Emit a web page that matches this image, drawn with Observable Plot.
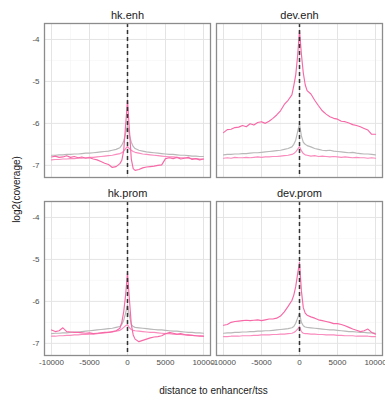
<!DOCTYPE html>
<html><head><meta charset="utf-8">
<script src="https://cdn.jsdelivr.net/npm/d3@7"></script>
<script src="https://cdn.jsdelivr.net/npm/@observablehq/plot@0.6"></script>
<style>
body{margin:0;background:#fff}
svg{font-family:"Liberation Sans",Arial,sans-serif}
</style>
</head><body><div id="chart"></div>
<script>
const distance = [-10000,-9500,-9000,-8500,-8000,-7500,-7000,-6500,-6000,-5500,-5000,-4500,-4000,-3500,-3000,-2500,-2000,-1500,-1000,-750,-500,-250,0,250,500,750,1000,1500,2000,2500,3000,3500,4000,4500,5000,5500,6000,6500,7000,7500,8000,8500,9000,9500,10000];
const cells = ["hk","dev"];
const regions = ["enh","prom"];
const seriesNames = ["input","sample2","sample1"];
const xTicks = [-10000,-5000,0,5000,10000];
const xMinor = [-7500,-2500,2500,7500];
const yTicks = [-7,-6,-5,-4];
const yMinor = [-6.5,-5.5,-4.5];

// hk.enh
const hkEnhInput = [-6.76,-6.76,-6.75,-6.75,-6.74,-6.74,-6.73,-6.73,-6.72,-6.71,-6.71,-6.70,-6.69,-6.68,-6.67,-6.66,-6.64,-6.62,-6.58,-6.52,-6.42,-6.25,-6.05,-6.28,-6.45,-6.55,-6.60,-6.64,-6.66,-6.68,-6.69,-6.70,-6.71,-6.72,-6.73,-6.74,-6.74,-6.75,-6.76,-6.76,-6.77,-6.78,-6.78,-6.79,-6.79];
const hkEnhSample2 = [-6.87,-6.86,-6.86,-6.85,-6.85,-6.84,-6.84,-6.83,-6.83,-6.82,-6.81,-6.81,-6.80,-6.79,-6.78,-6.77,-6.76,-6.74,-6.72,-6.70,-6.66,-6.60,-6.55,-6.60,-6.64,-6.67,-6.69,-6.71,-6.73,-6.74,-6.75,-6.76,-6.77,-6.78,-6.79,-6.80,-6.80,-6.81,-6.82,-6.82,-6.83,-6.84,-6.84,-6.85,-6.85];
const hkEnhSample1 = [-6.80,-6.78,-6.81,-6.80,-6.77,-6.81,-6.79,-6.82,-6.80,-6.83,-6.82,-6.85,-6.87,-6.91,-6.95,-6.98,-7.05,-7.03,-6.96,-6.88,-6.65,-6.05,-5.45,-6.15,-6.85,-7.08,-7.12,-7.10,-7.06,-7.04,-7.03,-7.02,-7.00,-6.99,-6.84,-6.82,-6.84,-6.81,-6.85,-6.83,-6.81,-6.86,-6.84,-6.87,-6.85];
// dev.enh
const devEnhInput = [-6.75,-6.74,-6.74,-6.73,-6.73,-6.72,-6.72,-6.71,-6.70,-6.70,-6.69,-6.68,-6.67,-6.66,-6.65,-6.64,-6.62,-6.60,-6.56,-6.50,-6.40,-6.20,-6.02,-6.30,-6.45,-6.50,-6.53,-6.56,-6.60,-6.62,-6.64,-6.65,-6.64,-6.66,-6.67,-6.68,-6.69,-6.70,-6.69,-6.71,-6.72,-6.73,-6.73,-6.74,-6.75];
const devEnhSample2 = [-6.83,-6.82,-6.83,-6.81,-6.82,-6.82,-6.81,-6.82,-6.81,-6.80,-6.81,-6.80,-6.80,-6.79,-6.79,-6.78,-6.77,-6.76,-6.74,-6.72,-6.68,-6.62,-6.55,-6.65,-6.72,-6.75,-6.76,-6.78,-6.77,-6.79,-6.78,-6.79,-6.80,-6.79,-6.80,-6.81,-6.80,-6.81,-6.82,-6.81,-6.82,-6.82,-6.83,-6.82,-6.83];
const devEnhSample1 = [-6.22,-6.15,-6.14,-6.10,-6.09,-6.05,-6.08,-6.01,-6.04,-5.98,-5.96,-6.00,-5.95,-5.88,-5.80,-5.70,-5.55,-5.45,-5.32,-5.10,-4.85,-4.40,-3.78,-4.35,-4.80,-5.08,-5.22,-5.30,-5.45,-5.58,-5.70,-5.78,-5.84,-5.88,-5.90,-5.95,-5.96,-5.99,-6.03,-6.05,-6.08,-6.12,-6.16,-6.26,-6.26];
// hk.prom
const hkPromInput = [-6.77,-6.76,-6.76,-6.75,-6.75,-6.74,-6.73,-6.73,-6.72,-6.71,-6.70,-6.69,-6.68,-6.67,-6.66,-6.65,-6.64,-6.62,-6.60,-6.55,-6.45,-6.28,-6.08,-6.35,-6.55,-6.60,-6.62,-6.63,-6.64,-6.65,-6.66,-6.67,-6.68,-6.68,-6.69,-6.70,-6.71,-6.71,-6.72,-6.73,-6.74,-6.74,-6.75,-6.75,-6.76];
const hkPromSample2 = [-6.83,-6.83,-6.82,-6.82,-6.81,-6.81,-6.80,-6.80,-6.79,-6.79,-6.78,-6.78,-6.77,-6.76,-6.75,-6.74,-6.73,-6.71,-6.69,-6.66,-6.62,-6.58,-6.55,-6.63,-6.67,-6.69,-6.70,-6.71,-6.72,-6.73,-6.74,-6.74,-6.75,-6.76,-6.77,-6.77,-6.78,-6.79,-6.79,-6.80,-6.81,-6.81,-6.82,-6.82,-6.83];
const hkPromSample1 = [-6.68,-6.72,-6.70,-6.63,-6.72,-6.73,-6.74,-6.74,-6.75,-6.76,-6.75,-6.77,-6.76,-6.75,-6.74,-6.74,-6.72,-6.70,-6.64,-6.50,-6.25,-5.85,-5.32,-5.95,-6.55,-6.80,-6.90,-6.96,-6.93,-6.90,-6.87,-6.85,-6.84,-6.82,-6.77,-6.74,-6.76,-6.78,-6.77,-6.79,-6.80,-6.81,-6.82,-6.83,-6.83];
// dev.prom
const devPromInput = [-6.76,-6.75,-6.75,-6.74,-6.74,-6.73,-6.73,-6.72,-6.72,-6.71,-6.71,-6.70,-6.70,-6.69,-6.68,-6.67,-6.66,-6.65,-6.63,-6.60,-6.52,-6.40,-6.28,-6.50,-6.58,-6.61,-6.62,-6.63,-6.64,-6.65,-6.66,-6.67,-6.68,-6.68,-6.69,-6.70,-6.71,-6.72,-6.72,-6.73,-6.74,-6.74,-6.75,-6.75,-6.76];
const devPromSample2 = [-6.84,-6.84,-6.83,-6.83,-6.83,-6.82,-6.82,-6.82,-6.81,-6.81,-6.80,-6.80,-6.80,-6.79,-6.79,-6.78,-6.78,-6.77,-6.76,-6.74,-6.71,-6.66,-6.60,-6.72,-6.76,-6.77,-6.77,-6.78,-6.78,-6.79,-6.79,-6.80,-6.80,-6.80,-6.81,-6.81,-6.82,-6.82,-6.82,-6.83,-6.83,-6.83,-6.83,-6.84,-6.84];
const devPromSample1 = [-6.57,-6.55,-6.50,-6.48,-6.47,-6.46,-6.45,-6.46,-6.45,-6.44,-6.46,-6.44,-6.42,-6.42,-6.40,-6.35,-6.25,-6.12,-5.98,-5.85,-5.65,-5.35,-5.07,-5.75,-6.15,-6.28,-6.33,-6.37,-6.40,-6.44,-6.46,-6.48,-6.50,-6.53,-6.53,-6.55,-6.58,-6.62,-6.66,-6.69,-6.72,-6.70,-6.66,-6.74,-6.78];

const panelSeries = [
  ["hk","enh", hkEnhInput, hkEnhSample2, hkEnhSample1],
  ["dev","enh", devEnhInput, devEnhSample2, devEnhSample1],
  ["hk","prom", hkPromInput, hkPromSample2, hkPromSample1],
  ["dev","prom", devPromInput, devPromSample2, devPromSample1]
];
const rows = [];
for (const [cell, region, ...vals] of panelSeries) {
  vals.forEach((arr, k) => arr.forEach((v, i) => rows.push({cell, region, series: seriesNames[k], distance: distance[i], value: v})));
}
const panels = panelSeries.map(([cell, region]) => ({cell, region, label: cell + "." + region}));

const chart = Plot.plot({
  width: 385, height: 401,
  marginLeft: 43, marginRight: 3, marginTop: 23, marginBottom: 45,
  style: {fontFamily: "'Liberation Sans', Arial, sans-serif", fontSize: "8px", color: "#4d4d4d", background: "#fff"},
  fx: {domain: cells, paddingInner: 0.036, paddingOuter: 0, axis: null},
  fy: {domain: regions, paddingInner: 0.134, paddingOuter: 0, axis: null},
  x: {domain: [-10920, 10920], ticks: xTicks, tickFormat: d => String(d), tickSize: 0, tickPadding: 4,
      label: "distance to enhancer/tss", labelAnchor: "center", labelOffset: 38, labelArrow: "none"},
  y: {domain: [-7.29, -3.62], ticks: yTicks, tickFormat: d => String(d), tickSize: 0, tickPadding: 5,
      label: "log2(coverage)", labelAnchor: "center", labelOffset: 32, labelArrow: "none"},
  color: {domain: seriesNames, range: ["#b8b8b8", "#f98bbd", "#f768a6"]},
  marks: [
    Plot.ruleX(xMinor, {stroke: "#f3f3f3", strokeWidth: 0.6}),
    Plot.ruleY(yMinor, {stroke: "#f3f3f3", strokeWidth: 0.6}),
    Plot.ruleX(xTicks, {stroke: "#e4e4e4", strokeWidth: 1}),
    Plot.ruleY(yTicks, {stroke: "#e4e4e4", strokeWidth: 1}),
    Plot.line(rows, {x: "distance", y: "value", z: "series", stroke: "series", fx: "cell", fy: "region", strokeWidth: 1.15}),
    Plot.ruleX([0], {stroke: "#333", strokeWidth: 1.5, strokeDasharray: "4,3"}),
    Plot.frame({stroke: "#8c8c8c", strokeWidth: 1.3}),
    Plot.text(panels, {fx: "cell", fy: "region", text: "label", frameAnchor: "top", dy: -5, lineAnchor: "bottom", fontSize: 11, fontWeight: "normal", fill: "#1a1a1a"})
  ]
});
document.getElementById("chart").appendChild(chart);
chart.querySelectorAll('[aria-label="x-axis label"] text, [aria-label="y-axis label"] text').forEach(t => {
  t.setAttribute("font-size", "10");
  t.style.fontSize = "10px";
  t.setAttribute("fill", "#1a1a1a");
});
</script>
</body></html>
